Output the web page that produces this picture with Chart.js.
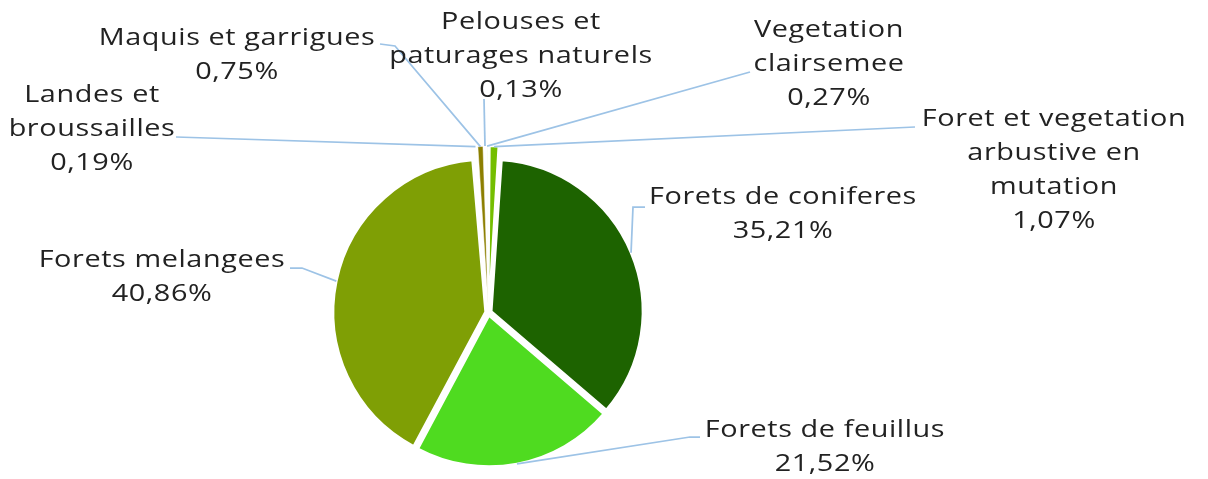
<!DOCTYPE html>
<html>
<head>
<meta charset="utf-8">
<title>Occupation des sols forestiers</title>
<script src="https://cdn.jsdelivr.net/npm/chart.js@4/dist/chart.umd.min.js"></script>
<style>
  html, body { margin: 0; padding: 0; background: #fff; }
  #wrap { width: 1208px; height: 479px; }
</style>
</head>
<body>
<div id="wrap"><canvas id="pieChart" width="1208" height="479"></canvas></div>
<script>
// categories (one entry per line of the label) and their shares in %
const categories = [
  ['Foret et vegetation', 'arbustive en', 'mutation'],
  ['Forets de coniferes'],
  ['Forets de feuillus'],
  ['Forets melangees'],
  ['Landes et', 'broussailles'],
  ['Maquis et garrigues'],
  ['Pelouses et', 'paturages naturels'],
  ['Vegetation', 'clairsemee']
];
const shares = [1.07, 35.21, 21.52, 40.86, 0.19, 0.75, 0.13, 0.27];
const sliceColors = ['#74BE00', '#1D6300', '#4FDB20', '#7F9F05', '#A8D86B', '#8C7F00', '#3050A0', '#D5EFA0'];

// where each label sits and how its leader line bends
const labelLayout = [
  { x: 1054, y: 119, attach: [915, 127] },
  { x: 783, y: 197, attach: [645, 207], knee: [633, 207] },
  { x: 825, y: 430, attach: [700, 437], knee: [690, 437] },
  { x: 162, y: 260, attach: [290, 268], knee: [302, 268] },
  { x: 92, y: 95, attach: [176, 137] },
  { x: 237, y: 38, attach: [380, 44], knee: [395, 46] },
  { x: 521, y: 22, attach: [484, 99] },
  { x: 829, y: 30, attach: [750, 72] }
];

const FONT = '400 24px "Open Sans", sans-serif';
const TEXT_STRETCH = 1.2;   // wide geometric look for the labels
const LINE_H = 34;

function pct(v) {
  return v.toFixed(2).replace('.', ',') + '%';
}

// outer point of a slice, following the same shift the arc uses when drawn
function arcTip(arc) {
  const p = arc.getProps(['x', 'y', 'startAngle', 'endAngle', 'outerRadius', 'circumference'], true);
  const mid = (p.startAngle + p.endAngle) / 2;
  const off = (arc.options.offset || 0) / 4;
  const fix = 1 - Math.sin(Math.min(Math.PI, p.circumference || 0));
  const r = p.outerRadius + off * fix + off;
  return [p.x + Math.cos(mid) * r, p.y + Math.sin(mid) * r];
}

const labelPlugin = {
  id: 'pieLabels',
  afterDatasetsDraw(chart) {
    const ctx = chart.ctx;
    const meta = chart.getDatasetMeta(0);
    ctx.save();
    ctx.strokeStyle = '#9DC3E6';
    ctx.lineWidth = 1.75;
    meta.data.forEach((arc, i) => {
      const lay = labelLayout[i];
      const tip = arcTip(arc);
      ctx.beginPath();
      ctx.moveTo(lay.attach[0], lay.attach[1]);
      if (lay.knee) ctx.lineTo(lay.knee[0], lay.knee[1]);
      ctx.lineTo(tip[0], tip[1]);
      ctx.stroke();
    });

    ctx.fillStyle = '#222222';
    ctx.font = FONT;
    ctx.letterSpacing = '0.5px';
    ctx.textAlign = 'center';
    ctx.textBaseline = 'middle';
    meta.data.forEach((arc, i) => {
      const lay = labelLayout[i];
      const lines = categories[i].concat([pct(shares[i])]);
      lines.forEach((t, k) => {
        ctx.save();
        ctx.translate(lay.x, lay.y + k * LINE_H);
        ctx.scale(TEXT_STRETCH, 1);
        ctx.fillText(t, 0, 0);
        ctx.restore();
      });
    });
    ctx.restore();
  }
};

new Chart(document.getElementById('pieChart'), {
  type: 'pie',
  data: {
    labels: categories,
    datasets: [{
      data: shares,
      backgroundColor: sliceColors,
      borderColor: '#ffffff',
      borderWidth: [1.5, 2.5, 2.5, 2.5, 0.5, 0.5, 0.5, 0.5],
      offset: [31, 12, 12, 12, 31, 31, 31, 31]
    }]
  },
  options: {
    responsive: false,
    animation: false,
    radius: 151,
    layout: { padding: { left: 0, right: 231, top: 146, bottom: 0 } },
    plugins: {
      legend: { display: false },
      tooltip: { enabled: false }
    }
  },
  plugins: [labelPlugin]
});
</script>
</body>
</html>
